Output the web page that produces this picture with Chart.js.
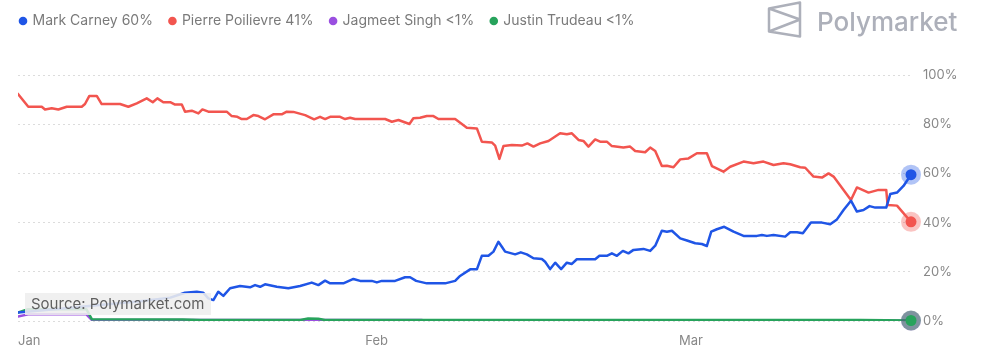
<!DOCTYPE html>
<html>
<head>
<meta charset="utf-8">
<script src="https://cdn.jsdelivr.net/npm/chart.js@4.4.1/dist/chart.umd.min.js"></script>
<style>
html,body{margin:0;padding:0;background:#fff;}
#wrap{width:984px;height:360px;position:relative;}
</style>
</head>
<body>
<div id="wrap"><canvas id="c" width="984" height="360"></canvas></div>
<script>
// ---- tick labels / categories ----
const monthLabels = ['Jan', 'Feb', 'Mar'];
const monthStartDays = [0, 31, 59];           // days since Jan 1
const yTickValues = [0, 20, 40, 60, 80, 100];
const seriesNames = ['Mark Carney 60%', 'Pierre Poilievre 41%', 'Jagmeet Singh <1%', 'Justin Trudeau <1%'];
const sourceText = 'Source: Polymarket.com';
const brandText = 'Polymarket';

// ---- series (day offset from Jan 1, probability %) ----
const carneyDays = [0,3.75,7.3,10.9,13.6,14.9,15.96,16.54,16.99,17.44,17.88,18.33,18.93,19.82,20.71,21.16,21.61,22.05,23.1,24.13,25.18,26.22,26.81,27.41,27.86,29.04,29.94,30.54,31.58,32.03,32.47,33.66,34.55,35,35.54,36.49,38.13,39.02,39.46,40.36,40.96,41.4,41.99,42.44,42.88,43.19,43.48,44.38,44.88,45.42,46.01,46.76,47.05,47.5,47.95,48.48,48.99,49.44,49.88,51.52,51.9,52.56,53.01,53.46,53.99,54.49,54.94,55.83,56.43,56.88,57.47,57.92,58.37,59.11,59.71,60.45,61.04,61.49,61.88,62.38,63.04,63.87,64.76,65.96,66.4,66.85,67.44,68.48,68.93,69.53,70.06,70.78,71.76,72.5,73.1,73.69,74.35,74.88,75.47,76.01,76.52,77.5,77.86,78.46,79.04,79.71];
const carneyValues = [3.5,5,6.5,8,9.5,11.5,11.9,11.5,9.2,8.5,11.9,10.2,13.3,14.2,13.7,14.6,13.9,14.9,13.9,13.3,14.2,15.6,14.6,16.4,15.3,15.3,17.1,16.3,16.3,15.7,16.3,16.3,17.8,17.8,16.3,15.3,15.3,16.3,18.3,21,21,26.5,26.5,28.2,32.2,30.2,28.2,27.1,27.9,27.1,25.5,25.2,24.1,21.1,23.7,21.1,23.7,23.2,25.1,25.1,26.5,26.5,27.5,26.5,28.5,27.5,28.9,29.3,28.5,30.6,36.7,36.3,36.7,33.6,32.7,31.6,31.3,30.5,36.3,37.3,38.3,36.3,34.6,34.6,35,34.6,35,34.3,36.1,36.1,35.7,40,40,39.3,41.3,45.1,48.9,44.5,45.1,46.7,46.1,46.1,51.6,52.2,54.9,59.5];

const poilievreDays = [0,0.92,2.12,2.41,3.01,3.6,4.35,5.69,5.98,6.37,7.03,7.47,9.11,9.85,10.6,11.49,12.03,12.44,12.97,13.63,14.02,14.62,14.91,15.51,16.1,16.46,16.99,18.63,19.08,19.58,19.97,20.42,21.01,21.46,22.05,22.79,23.54,23.99,24.58,25.63,26.43,26.96,27.41,27.86,28.75,29.2,29.64,30.09,32.77,33.37,33.96,34.94,35.29,35.89,36.49,37.08,37.53,39.02,39.62,40.06,40.96,41.4,42.29,42.59,42.97,43.33,44.08,44.97,45.47,46.01,46.61,47.35,48.39,48.99,49.44,50.03,50.47,50.92,51.52,51.96,52.56,53.01,54.04,54.64,55.09,55.98,56.43,56.88,57.47,57.92,58.51,59.11,59.85,60.6,61.49,61.94,62.97,63.57,64.76,65.65,66.54,67.44,68.33,68.93,69.82,70.27,71.01,71.76,72.35,72.8,73.69,74.35,74.88,75.92,76.81,77.5,77.62,78.46,79.71];
const poilievreValues = [92.3,87.1,87.1,86,86.5,86,87.1,87.1,88.2,91.5,91.5,88.2,88.2,87.1,88.5,90.5,88.9,90.5,88.9,88.9,88,88,85.1,85.5,84.4,86,85.1,85.1,83.3,83,82.1,82.1,83.7,83.3,82,84,84,85.1,85,83.7,82,83,82.1,83,83,82.1,82.6,82.1,82.1,81,81.7,80.1,82.4,82.6,83.3,83.3,82.1,82.1,80.1,78.6,78.3,72.9,72.6,71.3,65.9,71.1,71.5,71.3,72.2,70.9,72.2,73.2,76.3,75.9,76.3,73.6,73.2,70.9,73.8,72.9,72.9,71.1,70.5,70.9,69.1,68.6,70.5,69.1,63,63.1,62.5,65.7,66.1,68.2,68.2,63,60.7,62.7,64.8,64.1,64.8,63.4,64.1,63.7,62.5,62.3,58.7,58.3,60,58.7,53.3,49.2,54.3,52.2,53.3,53.3,47.2,46.9,40.3];

const singhDays = [0,0.9,6.1,6.6,36,36.5,79.71];
const singhValues = [1.8,2.7,2.7,0.4,0.4,0.1,0.1];

const trudeauDays = [0,0.9,6.1,6.6,14.7,16.3,25.2,25.9,26.8,27.4,75.2,79.71];
const trudeauValues = [3.4,4.8,4.8,0.7,0.6,0.4,0.4,1.0,0.9,0.4,0.4,0.2];

// ---- styling ----
const colors = ['#1f55e6', '#f2554f', '#9a4fe0', '#27a35c'];
const haloColors = ['rgba(31,85,230,0.35)', 'rgba(242,85,79,0.35)', 'rgba(154,79,224,0.35)', 'rgba(50,110,90,0.55)'];

function pts(days, vals) { return days.map((d, i) => ({ x: d, y: vals[i] })); }

const seriesData = [
  pts(carneyDays, carneyValues),
  pts(poilievreDays, poilievreValues),
  pts(singhDays, singhValues),
  pts(trudeauDays, trudeauValues)
];
const drawOrder = [0, 1, 3, 2];

Chart.defaults.font.family = 'Inter, "Noto Sans", sans-serif';

const legendPlugin = {
  id: 'customLegend',
  afterDraw(chart) {
    const ctx = chart.ctx;
    ctx.save();
    ctx.font = '14px Inter, "Noto Sans", sans-serif';
    ctx.textBaseline = 'middle';
    ctx.textAlign = 'left';
    let x = 23;
    const y = 21;
    seriesNames.forEach((name, i) => {
      ctx.beginPath();
      ctx.fillStyle = colors[i];
      ctx.arc(x, y, 4.3, 0, Math.PI * 2);
      ctx.fill();
      ctx.fillStyle = '#7a7a7a';
      ctx.fillText(name, x + 9.5, y);
      x = x + 9.5 + ctx.measureText(name).width + 19.5;
    });
    // brand logo
    ctx.strokeStyle = '#adb0ba';
    ctx.lineWidth = 2.5;
    ctx.lineJoin = 'round';
    ctx.beginPath();
    ctx.moveTo(769, 8.5);
    ctx.lineTo(800, 2.5);
    ctx.lineTo(800, 36.5);
    ctx.lineTo(769, 31.5);
    ctx.closePath();
    ctx.moveTo(769, 8.5);
    ctx.lineTo(800, 19.5);
    ctx.lineTo(769, 31.5);
    ctx.stroke();
    ctx.fillStyle = '#adb0ba';
    ctx.font = '500 26px Inter, "Noto Sans", sans-serif';
    ctx.textBaseline = 'alphabetic';
    ctx.fillText(brandText, 817, 31);
    // source box
    ctx.font = '15px Inter, "Noto Sans", sans-serif';
    ctx.fillStyle = 'rgba(238,238,238,0.88)';
    ctx.fillRect(25, 293, 186, 22);
    ctx.fillStyle = '#5f5f5f';
    ctx.textBaseline = 'middle';
    ctx.fillText(sourceText, 31, 304);
    ctx.restore();
  }
};

const endMarkerPlugin = {
  id: 'endMarkers',
  afterDatasetsDraw(chart) {
    const ctx = chart.ctx;
    ctx.save();
    [2, 3, 1, 0].forEach(i => {
      const meta = chart.getDatasetMeta(i);
      const last = meta.data[meta.data.length - 1];
      if (!last) return;
      ctx.beginPath();
      ctx.fillStyle = haloColors[i];
      ctx.arc(last.x, last.y, 10, 0, Math.PI * 2);
      ctx.fill();
      if (i === 2) return;
      ctx.beginPath();
      ctx.fillStyle = colors[i];
      ctx.arc(last.x, last.y, 5.5, 0, Math.PI * 2);
      ctx.fill();
    });
    ctx.restore();
  }
};

new Chart(document.getElementById('c'), {
  type: 'line',
  data: {
    datasets: seriesData.map((d, i) => ({
      label: seriesNames[i],
      data: d,
      borderColor: colors[i],
      backgroundColor: colors[i],
      borderWidth: 2.5,
      pointRadius: 0,
      pointHoverRadius: 0,
      tension: 0,
      borderJoinStyle: 'round',
      borderCapStyle: 'round',
      order: drawOrder[i],
      fill: false
    }))
  },
  options: {
    responsive: false,
    animation: false,
    devicePixelRatio: 1,
    layout: { padding: { left: 18, right: 0, top: 75, bottom: 0 } },
    plugins: { legend: { display: false }, tooltip: { enabled: false } },
    scales: {
      x: {
        type: 'linear',
        min: 0,
        max: carneyDays[carneyDays.length - 1],
        afterBuildTicks(scale) { scale.ticks = monthStartDays.map(v => ({ value: v })); },
        afterFit(scale) { scale.height = 39; },
        ticks: {
          callback: (v, idx) => monthLabels[idx],
          align: 'start',
          autoSkip: false,
          maxRotation: 0,
          padding: 12,
          color: '#888',
          font: { size: 13 }
        },
        grid: { display: false, drawTicks: false },
        border: { display: false }
      },
      y: {
        position: 'right',
        min: 0,
        max: 100,
        afterBuildTicks(scale) { scale.ticks = yTickValues.map(v => ({ value: v })); },
        afterFit(scale) { scale.width = 73; },
        ticks: {
          callback: v => v + '%',
          padding: 12,
          color: '#888',
          font: { size: 13 }
        },
        grid: { color: '#dcdcdc', lineWidth: 1, drawTicks: false },
        border: { display: false, dash: [2, 3] }
      }
    }
  },
  plugins: [endMarkerPlugin, legendPlugin]
});
</script>
</body>
</html>
